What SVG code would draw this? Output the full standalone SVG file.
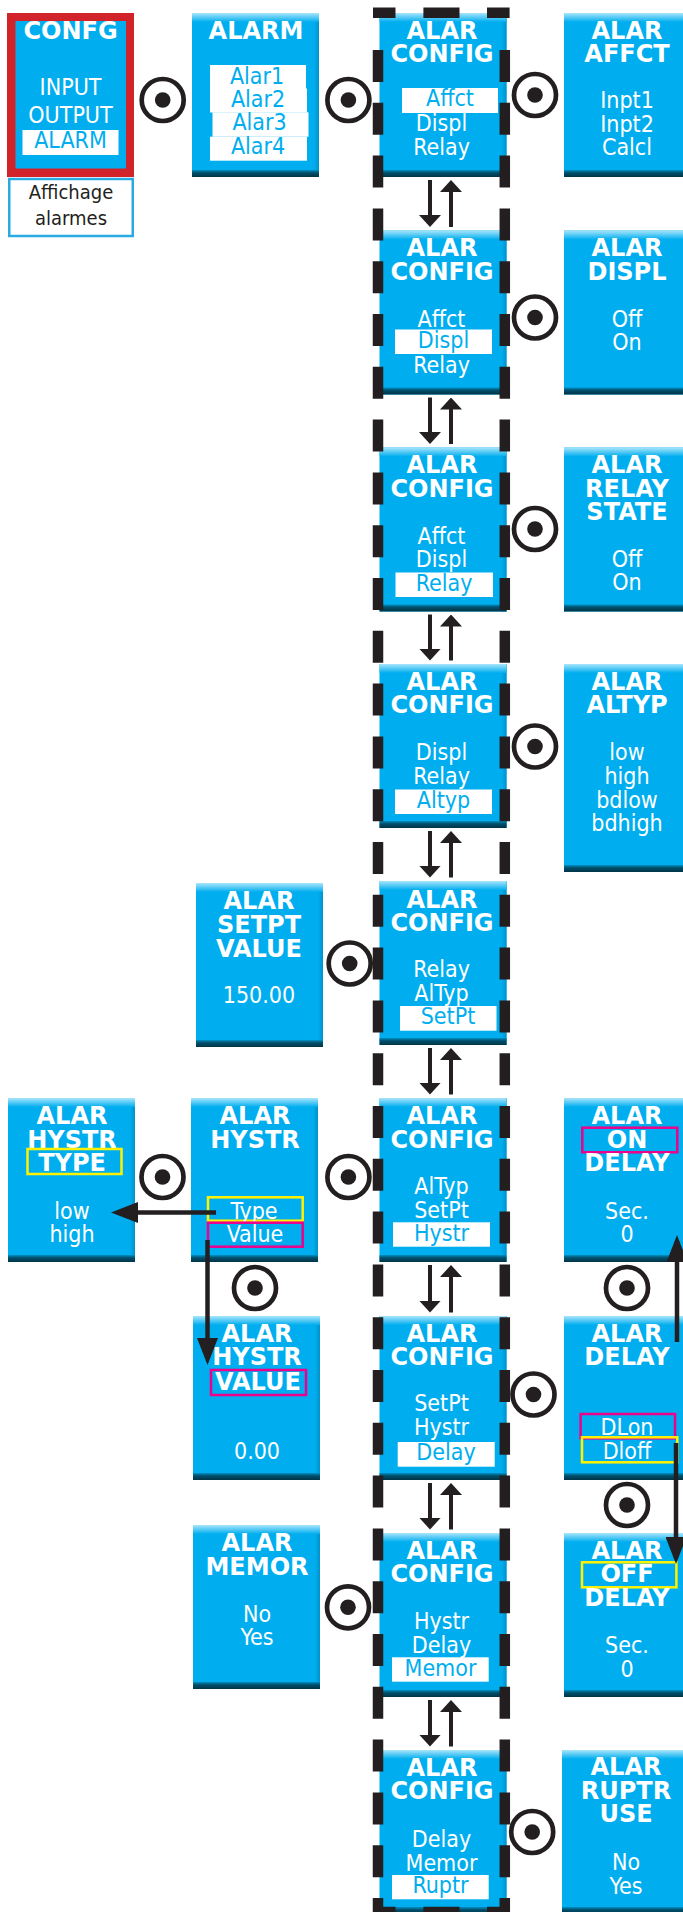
<svg xmlns="http://www.w3.org/2000/svg" xmlns:xlink="http://www.w3.org/1999/xlink" width="683" height="1912" viewBox="0 0 683 1912">
<defs>
<linearGradient id="gTop" x1="0" y1="0" x2="0" y2="1"><stop offset="0" stop-color="#a9e5fb"/><stop offset="1" stop-color="#00aeef"/></linearGradient>
<linearGradient id="gBot" x1="0" y1="0" x2="0" y2="1"><stop offset="0" stop-color="#0090c4"/><stop offset="0.4" stop-color="#004f6b"/><stop offset="1" stop-color="#003447"/></linearGradient>
<linearGradient id="gR" x1="0" y1="0" x2="1" y2="0"><stop offset="0" stop-color="#00aeef"/><stop offset="1" stop-color="#0092c9"/></linearGradient>
<marker id="ah" viewBox="0 0 12 22" markerWidth="12" markerHeight="22" refX="9" refY="11" orient="auto" markerUnits="userSpaceOnUse"><path d="M0,0 L12,11 L0,22 Z" fill="#231f20"/></marker>
<marker id="ahL" viewBox="0 0 27 21" markerWidth="27" markerHeight="21" refX="21" refY="10.5" orient="auto" markerUnits="userSpaceOnUse"><path d="M0,0 L27,10.5 L0,21 Z" fill="#231f20"/></marker>
<g id="bx">
<rect class="b" x="0" y="0" width="127" height="164"/>
<rect class="br" x="122" y="0" width="5" height="164"/>
<rect class="bt" x="0" y="0" width="127" height="9"/>
<rect class="bb" x="0" y="157" width="127" height="7"/>
</g>
<g id="btn"><circle cx="0" cy="0" r="21" class="ring"/><circle cx="0" cy="0" r="7.8" class="dot"/></g>
<style>
.b{fill:#00aeef}
.bt{fill:url(#gTop)}
.bb{fill:url(#gBot)}
.br{fill:url(#gR)}
.hd{font-family:"DejaVu Sans",sans-serif;font-weight:bold;font-size:24px;fill:#fff;text-anchor:middle}
.it{font-family:"DejaVu Sans Condensed","DejaVu Sans",sans-serif;font-stretch:condensed;font-size:23px;fill:#fff;text-anchor:middle}
.lbl{font-family:"DejaVu Sans Condensed","DejaVu Sans",sans-serif;font-stretch:condensed;font-size:20px;fill:#231f20;text-anchor:middle}
.sel{fill:#00aeef}
.hl{fill:#fff}
.yb{fill:none;stroke:#fff200;stroke-width:2.5}
.mb{fill:none;stroke:#ec008c;stroke-width:2.5}
.ring{fill:none;stroke:#231f20;stroke-width:4.7}
.dot{fill:#231f20}
.ar{stroke:#231f20;stroke-width:4;fill:none;marker-end:url(#ah)}
.arL{stroke:#231f20;stroke-width:4.5;fill:none;marker-end:url(#ahL)}
.dash{stroke:#231f20;stroke-width:10.5;fill:none}
</style>
</defs>
<rect width="683" height="1912" fill="#fff"/>

<!-- Column A -->
<g id="n-confg">
<rect x="7" y="13" width="127" height="164" fill="#d2232a"/>
<rect x="15.5" y="21" width="110.5" height="147.5" fill="#00aeef"/>
<text class="hd" x="70.5" y="38.5">CONFG</text>
<text class="it" x="70.5" y="94.5">INPUT</text>
<text class="it" x="70.5" y="123">OUTPUT</text>
<rect class="hl" x="22.5" y="130" width="96" height="25"/>
<text class="it sel" x="70.5" y="148">ALARM</text>
</g>
<g id="n-affichage">
<rect x="9.25" y="179" width="123.5" height="57" fill="#fff" stroke="#29abe2" stroke-width="2.5"/>
<text class="lbl" x="71" y="199">Affichage</text>
<text class="lbl" x="71" y="225">alarmes</text>
</g>
<g id="n-hystr-type">
<use xlink:href="#bx" x="8" y="1098"/>
<text class="hd" x="72" y="1124">ALAR</text>
<text class="hd" x="72" y="1147.5">HYSTR</text>
<rect class="yb" x="27.5" y="1149" width="94" height="25"/>
<text class="hd" x="72" y="1171">TYPE</text>
<text class="it" x="72" y="1218.5">low</text>
<text class="it" x="72" y="1241.7">high</text>
</g>

<!-- Column B -->
<g id="n-alarm">
<use xlink:href="#bx" x="192" y="13"/>
<text class="hd" x="256" y="38.5">ALARM</text>
<rect class="hl" x="210" y="65" width="96" height="24.5"/>
<rect class="hl" x="210" y="88.5" width="97" height="24"/>
<rect class="hl" x="212.5" y="112.3" width="96" height="24.4"/>
<rect class="hl" x="210" y="136.7" width="97" height="24"/>
<text class="it sel" x="257" y="83.5">Alar1</text>
<text class="it sel" x="258" y="106.5">Alar2</text>
<text class="it sel" x="259.5" y="129.5">Alar3</text>
<text class="it sel" x="258" y="153.5">Alar4</text>
</g>
<g id="n-setpt">
<use xlink:href="#bx" x="196" y="883"/>
<text class="hd" x="259" y="909.3">ALAR</text>
<text class="hd" x="259" y="932.7">SETPT</text>
<text class="hd" x="259" y="956.7">VALUE</text>
<text class="it" x="259" y="1003.3">150.00</text>
</g>
<g id="n-hystr">
<use xlink:href="#bx" x="191" y="1098"/>
<text class="hd" x="255" y="1124">ALAR</text>
<text class="hd" x="255" y="1147.5">HYSTR</text>
<rect class="yb" x="208" y="1197.3" width="94.7" height="23.4"/>
<text class="it" x="254" y="1218.5">Type</text>
<rect class="mb" x="208" y="1222.7" width="94.7" height="24"/>
<text class="it" x="255" y="1241.7">Value</text>
</g>
<g id="n-hystr-value">
<use xlink:href="#bx" x="193" y="1316"/>
<text class="hd" x="257" y="1341.5">ALAR</text>
<text class="hd" x="257" y="1365">HYSTR</text>
<rect class="mb" x="211" y="1370" width="95" height="25"/>
<text class="hd" x="258" y="1390">VALUE</text>
<text class="it" x="257" y="1459.3">0.00</text>
</g>
<g id="n-memor">
<use xlink:href="#bx" x="193" y="1525"/>
<text class="hd" x="257" y="1551">ALAR</text>
<text class="hd" x="257" y="1574.5">MEMOR</text>
<text class="it" x="257" y="1621.5">No</text>
<text class="it" x="257" y="1645">Yes</text>
</g>

<!-- Column C: ALAR CONFIG -->
<g id="n-config-1">
<use xlink:href="#bx" x="379.5" y="13"/>
<text class="hd" x="442" y="38.5">ALAR</text>
<text class="hd" x="442" y="62">CONFIG</text>
<rect class="hl" x="402" y="88" width="96" height="25"/>
<text class="it sel" x="450" y="106">Affct</text>
<text class="it" x="441.5" y="131">Displ</text>
<text class="it" x="441.5" y="154.5">Relay</text>
</g>
<g id="n-config-2">
<use xlink:href="#bx" x="379.5" y="230.5"/>
<text class="hd" x="442" y="256">ALAR</text>
<text class="hd" x="442" y="279.5">CONFIG</text>
<text class="it" x="441.5" y="326.5">Affct</text>
<rect class="hl" x="395" y="329.5" width="97" height="24.5"/>
<text class="it sel" x="443.5" y="348">Displ</text>
<text class="it" x="441.5" y="372.5">Relay</text>
</g>
<g id="n-config-3">
<use xlink:href="#bx" x="379.5" y="447.5"/>
<text class="hd" x="442" y="473">ALAR</text>
<text class="hd" x="442" y="496.5">CONFIG</text>
<text class="it" x="441.5" y="543.5">Affct</text>
<text class="it" x="441.5" y="566.5">Displ</text>
<rect class="hl" x="395.5" y="572.5" width="97.5" height="24.5"/>
<text class="it sel" x="444" y="590.5">Relay</text>
</g>
<g id="n-config-4">
<use xlink:href="#bx" x="379.5" y="664"/>
<text class="hd" x="442" y="689.5">ALAR</text>
<text class="hd" x="442" y="713">CONFIG</text>
<text class="it" x="441.5" y="760">Displ</text>
<text class="it" x="441.5" y="783.5">Relay</text>
<rect class="hl" x="395" y="789.5" width="97" height="24.5"/>
<text class="it sel" x="443.5" y="807.5">Altyp</text>
</g>
<g id="n-config-5">
<use xlink:href="#bx" x="379.5" y="881"/>
<text class="hd" x="442" y="907.5">ALAR</text>
<text class="hd" x="442" y="931">CONFIG</text>
<text class="it" x="441.5" y="976.7">Relay</text>
<text class="it" x="441.5" y="1000.5">AlTyp</text>
<rect class="hl" x="400" y="1006" width="96.5" height="24.7"/>
<text class="it sel" x="448" y="1024">SetPt</text>
</g>
<g id="n-config-6">
<use xlink:href="#bx" x="379.5" y="1098"/>
<text class="hd" x="442" y="1124">ALAR</text>
<text class="hd" x="442" y="1147.5">CONFIG</text>
<text class="it" x="441.5" y="1193.5">AlTyp</text>
<text class="it" x="441.5" y="1217.5">SetPt</text>
<rect class="hl" x="393" y="1222.3" width="97" height="24.4"/>
<text class="it sel" x="441.5" y="1240.5">Hystr</text>
</g>
<g id="n-config-7">
<use xlink:href="#bx" x="379.5" y="1316"/>
<text class="hd" x="442" y="1341.5">ALAR</text>
<text class="hd" x="442" y="1365">CONFIG</text>
<text class="it" x="441.5" y="1410.5">SetPt</text>
<text class="it" x="441.5" y="1434.5">Hystr</text>
<rect class="hl" x="397.7" y="1442" width="97" height="24.7"/>
<text class="it sel" x="446" y="1460">Delay</text>
</g>
<g id="n-config-8">
<use xlink:href="#bx" x="379.5" y="1533"/>
<text class="hd" x="442" y="1558.5">ALAR</text>
<text class="hd" x="442" y="1582">CONFIG</text>
<text class="it" x="441.5" y="1629">Hystr</text>
<text class="it" x="441.5" y="1653">Delay</text>
<rect class="hl" x="392" y="1657.3" width="96.7" height="24.4"/>
<text class="it sel" x="440.5" y="1675.5">Memor</text>
</g>
<g id="n-config-9">
<use xlink:href="#bx" x="379.5" y="1750"/>
<text class="hd" x="442" y="1775.5">ALAR</text>
<text class="hd" x="442" y="1799">CONFIG</text>
<text class="it" x="441.5" y="1846.5">Delay</text>
<text class="it" x="441.5" y="1870.5">Memor</text>
<rect class="hl" x="392" y="1875" width="96.7" height="24.3"/>
<text class="it sel" x="440.5" y="1893">Ruptr</text>
</g>

<!-- Column D -->
<g id="n-affct">
<use xlink:href="#bx" x="564" y="13"/>
<text class="hd" x="627" y="38.5">ALAR</text>
<text class="hd" x="627" y="62">AFFCT</text>
<text class="it" x="627" y="108">Inpt1</text>
<text class="it" x="627" y="131.5">Inpt2</text>
<text class="it" x="627" y="155">Calcl</text>
</g>
<g id="n-displ">
<use xlink:href="#bx" x="564" y="230.5"/>
<text class="hd" x="627" y="256">ALAR</text>
<text class="hd" x="627" y="279.5">DISPL</text>
<text class="it" x="627" y="326.5">Off</text>
<text class="it" x="627" y="349.5">On</text>
</g>
<g id="n-relay-state">
<use xlink:href="#bx" x="564" y="447.5"/>
<text class="hd" x="627" y="473">ALAR</text>
<text class="hd" x="627" y="496.5">RELAY</text>
<text class="hd" x="627" y="520">STATE</text>
<text class="it" x="627" y="566.5">Off</text>
<text class="it" x="627" y="590">On</text>
</g>
<g id="n-altyp">
<rect class="b" x="564" y="664" width="127" height="208"/>
<rect class="bt" x="564" y="664" width="127" height="9"/>
<rect class="bb" x="564" y="865" width="127" height="7"/>
<text class="hd" x="627" y="689.5">ALAR</text>
<text class="hd" x="627" y="713">ALTYP</text>
<text class="it" x="627" y="760">low</text>
<text class="it" x="627" y="784">high</text>
<text class="it" x="627" y="807.5">bdlow</text>
<text class="it" x="627" y="831">bdhigh</text>
</g>
<g id="n-on-delay">
<use xlink:href="#bx" x="564" y="1098"/>
<text class="hd" x="627" y="1124">ALAR</text>
<rect class="mb" x="582.3" y="1127.7" width="95" height="24.6"/>
<text class="hd" x="627" y="1147.5">ON</text>
<text class="hd" x="627" y="1171">DELAY</text>
<text class="it" x="627" y="1218.5">Sec.</text>
<text class="it" x="627" y="1241.7">0</text>
</g>
<g id="n-delay">
<use xlink:href="#bx" x="564" y="1316"/>
<text class="hd" x="627" y="1341.5">ALAR</text>
<text class="hd" x="627" y="1365">DELAY</text>
<rect class="mb" x="580.6" y="1414" width="94.4" height="24.3"/>
<text class="it" x="627" y="1435">DLon</text>
<rect class="yb" x="582" y="1437.3" width="95.3" height="25"/>
<text class="it" x="627" y="1459">Dloff</text>
</g>
<g id="n-off-delay">
<use xlink:href="#bx" x="564" y="1533"/>
<text class="hd" x="627" y="1558.5">ALAR</text>
<rect class="yb" x="582" y="1562.3" width="94.4" height="25"/>
<text class="hd" x="627" y="1582">OFF</text>
<text class="hd" x="627" y="1606">DELAY</text>
<text class="it" x="627" y="1653.3">Sec.</text>
<text class="it" x="627" y="1676.7">0</text>
</g>
<g id="n-ruptr-use">
<use xlink:href="#bx" x="562" y="1750"/>
<text class="hd" x="626" y="1775">ALAR</text>
<text class="hd" x="626" y="1799">RUPTR</text>
<text class="hd" x="626" y="1822">USE</text>
<text class="it" x="626" y="1870">No</text>
<text class="it" x="626" y="1893.5">Yes</text>
</g>

<!-- Dashed frame around ALAR CONFIG column -->
<g id="config-frame">
<path class="dash" d="M378,50 V1912 M504.8,50 V1912" stroke-dasharray="32 20.8"/>
<path class="dash" stroke-width="11" d="M373,12.8 H395.5 M423.4,12.8 H459.5 M487,12.8 H509.6 M373,1912 H395.5 M423.4,1912 H459.5 M487,1912 H509.6"/>
</g>

<!-- Connectors -->
<g id="connectors">
<use xlink:href="#btn" x="162.7" y="100"/>
<use xlink:href="#btn" x="348.4" y="100"/>
<use xlink:href="#btn" x="535" y="95"/>
<use xlink:href="#btn" x="535" y="317.5"/>
<use xlink:href="#btn" x="535" y="529"/>
<use xlink:href="#btn" x="535" y="746.5"/>
<use xlink:href="#btn" x="349.7" y="963.5"/>
<use xlink:href="#btn" x="162.5" y="1177"/>
<use xlink:href="#btn" x="348.4" y="1177"/>
<use xlink:href="#btn" x="255" y="1288"/>
<use xlink:href="#btn" x="627" y="1288"/>
<use xlink:href="#btn" x="533.5" y="1394.5"/>
<use xlink:href="#btn" x="627" y="1505"/>
<use xlink:href="#btn" x="348" y="1607.3"/>
<use xlink:href="#btn" x="532.2" y="1832"/>

<path class="ar" d="M430,180 V224"/><path class="ar" d="M451,227 V183"/>
<path class="ar" d="M430,397.5 V441"/><path class="ar" d="M451,444 V400.5"/>
<path class="ar" d="M430,614.5 V657.5"/><path class="ar" d="M451,660.5 V617.5"/>
<path class="ar" d="M430,831 V874.5"/><path class="ar" d="M451,877.5 V834"/>
<path class="ar" d="M430,1048 V1091.5"/><path class="ar" d="M451,1094.5 V1051"/>
<path class="ar" d="M430,1265 V1309.5"/><path class="ar" d="M451,1312.5 V1268"/>
<path class="ar" d="M430,1483 V1526.5"/><path class="ar" d="M451,1529.5 V1486"/>
<path class="ar" d="M430,1700 V1743.5"/><path class="ar" d="M451,1746.5 V1703"/>

<path class="arL" d="M216,1212.5 H117"/>
<path class="arL" d="M207.5,1240 V1359"/>
<path class="arL" d="M677,1342 V1241"/>
<path class="arL" d="M676,1443 V1558"/>
</g>
</svg>
